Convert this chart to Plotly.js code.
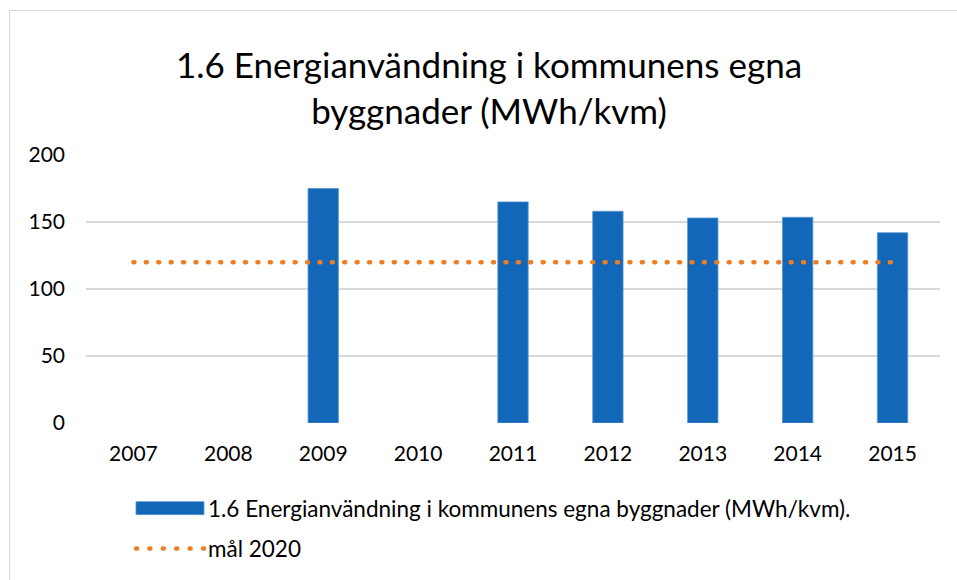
<!DOCTYPE html>
<html>
<head>
<meta charset="utf-8">
<script src="https://cdn.plot.ly/plotly-3.0.1.min.js"></script>
<style>
  html, body { margin: 0; padding: 0; background: #ffffff; }
  #wrap { position: relative; width: 957px; height: 580px; overflow: hidden; }
  #frame { position: absolute; left: 9px; top: 10px; width: 960px; height: 600px; border: 1px solid #d9d9d9; box-sizing: border-box; }
  #chart { position: absolute; left: 0; top: 0; width: 957px; height: 580px; }
</style>
</head>
<body>
<div id="wrap">
  <div id="frame"></div>
  <div id="chart"></div>
</div>
<script>
// ---- data ----
const years = ["2007", "2008", "2009", "2010", "2011", "2012", "2013", "2014", "2015"];
const energyValues = [null, null, 175, null, 165, 158, 153, 153.5, 142];
const goalValues = [120, 120, 120, 120, 120, 120, 120, 120, 120];
const yTicks = [0, 50, 100, 150, 200];
const seriesNames = ["1.6 Energianvändning i kommunens egna byggnader (MWh/kvm).", "mål 2020"];
const titleText = "1.6 Energianvändning i kommunens egna<br>byggnader (MWh/kvm)";

const FONT = "Lato, 'Open Sans', sans-serif";
const BAR_COLOR = "#1267b8";
const GOAL_COLOR = "#ef7d22";

const traces = [
  {
    type: "bar",
    x: years,
    y: energyValues,
    name: seriesNames[0],
    legendgroup: "a",
    marker: { color: BAR_COLOR, line: { color: "#5a95d2", width: 0.8 } },
    hoverinfo: "x+y"
  },
  {
    type: "scatter",
    mode: "lines",
    x: years,
    y: goalValues,
    name: seriesNames[1],
    legendgroup: "b",
    line: { color: GOAL_COLOR, width: 4.5, dash: "1px,11.4px" },
    hoverinfo: "x+y"
  }
];

const layout = {
  width: 957,
  height: 580,
  paper_bgcolor: "rgba(0,0,0,0)",
  plot_bgcolor: "rgba(0,0,0,0)",
  font: { family: FONT, color: "#000000", size: 21 },
  margin: { l: 85.5, r: 16.5, t: 154.7, b: 157.3, pad: 0, autoexpand: false },
  bargap: 0.68,
  title: {
    text: titleText,
    font: { family: FONT, size: 35, color: "#000000" },
    x: 489 / 957,
    xanchor: "center",
    xref: "container",
    y: 1 - 78 / 580,
    yanchor: "middle",
    yref: "container"
  },
  xaxis: {
    type: "category",
    categoryorder: "array",
    categoryarray: years,
    showgrid: false,
    showline: false,
    zeroline: false,
    ticks: "",
    tickangle: 0,
    ticklabelstandoff: 16,
    tickfont: { family: FONT, size: 21, color: "#000000" }
  },
  yaxis: {
    range: [0, 200],
    tickvals: yTicks,
    ticktext: yTicks.map(String),
    showgrid: true,
    gridcolor: "#d9d9d9",
    gridwidth: 1.3,
    zeroline: false,
    showline: false,
    ticks: "",
    ticklabelstandoff: 20,
    tickfont: { family: FONT, size: 21, color: "#000000" }
  },
  showlegend: true,
  legend: {
    orientation: "v",
    xref: "container",
    yref: "container",
    x: 128 / 957,
    xanchor: "left",
    y: 1 - 487 / 580,
    yanchor: "top",
    traceorder: "grouped",
    tracegroupgap: 8,
    itemwidth: 70,
    bgcolor: "rgba(0,0,0,0)",
    font: { family: FONT, size: 22.5, color: "#000000" }
  }
};

function fixLegendKeys(gd) {
  const items = gd.querySelectorAll(".legend .traces");
  const layer = gd.querySelector(".infolayer");
  let barHost = null;
  items.forEach(function (it, i) {
    if (i === 0) {
      it.querySelectorAll(".legendpoints path").forEach(function (p) {
        p.setAttribute("d", "M-32,6.5H36V-6.5H-32Z");
        barHost = p;
      });
    } else {
      if (gd.querySelector(".customkey")) return;
      it.querySelectorAll(".legendlines path, .legendpoints path, .legendfill path").forEach(function (p) {
        p.style.display = "none";
      });
      // position: x from the bar key frame, y from this item's frame
      const ownHost = it.querySelector(".legendpoints") || it;
      const mOwn = ownHost.getCTM();
      const mBar = barHost ? barHost.getCTM() : mOwn;
      const cx = mBar.e;
      const cy = mOwn.f;
      const np = document.createElementNS("http://www.w3.org/2000/svg", "path");
      np.setAttribute("class", "customkey");
      np.setAttribute("d", "M" + (cx - 32) + "," + cy + "H" + (cx + 36));
      np.setAttribute("fill", "none");
      np.style.stroke = GOAL_COLOR;
      np.style.strokeWidth = "4.5px";
      np.style.strokeLinecap = "round";
      np.style.strokeDasharray = "1px,12.4px";
      layer.appendChild(np);
    }
  });
  gd.querySelectorAll(".scatterlayer .js-line").forEach(function (p) {
    p.style.strokeLinecap = "round";
  });
}

Plotly.newPlot("chart", traces, layout, { displayModeBar: false, staticPlot: true }).then(function (gd) {
  fixLegendKeys(gd);
});
</script>
</body>
</html>
